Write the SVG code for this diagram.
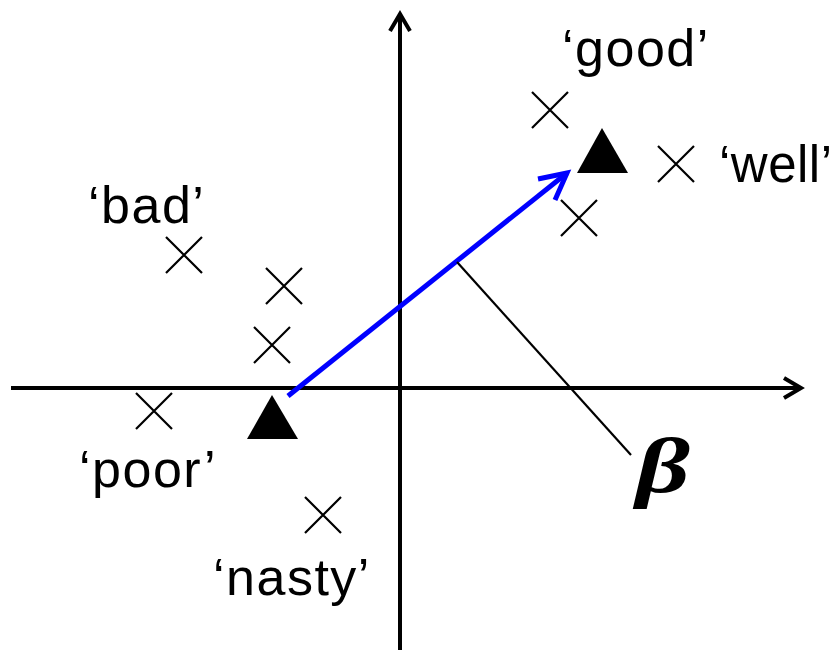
<svg xmlns="http://www.w3.org/2000/svg" width="838" height="650" viewBox="0 0 838 650">
<defs>
<style>
.ax{stroke:#000;stroke-width:4;fill:none}
.cr{stroke:#000;stroke-width:2.2;fill:none}
.lb{font-family:"Liberation Sans",Arial,Helvetica,sans-serif;font-size:52px;letter-spacing:1.5px;fill:#000}
</style>
<g id="xmark"><path class="cr" d="M-18,-18L18,18M-18,18L18,-18"/></g>
</defs>
<rect width="838" height="650" fill="#fff"/>
<g id="connectors">
<g id="y-axis"><path class="ax" d="M400,650V14"/><path class="ax" d="M390,31L400,14L410,31"/></g>
<g id="x-axis"><path class="ax" d="M11,388H800"/><path class="ax" d="M784,378L801,388L784,398"/></g>
<g id="beta-arrow"><path d="M288,396L567,173" stroke="#0000ff" stroke-width="5" fill="none"/><path d="M538,179L567,173L555,200" stroke="#0000ff" stroke-width="5" fill="none" stroke-linejoin="miter"/></g>
<path id="beta-leader" d="M457,262L631,455" stroke="#000" stroke-width="2.2" fill="none"/>
</g>
<g id="pos-centroid"><polygon points="602,128 577,173 628,173" fill="#000"/></g>
<g id="neg-centroid"><polygon points="272,395 247,439 298,439" fill="#000"/></g>
<g id="good"><use href="#xmark" x="550" y="110"/><text class="lb" x="562" y="66">‘good’</text></g>
<g id="well"><use href="#xmark" x="676" y="164"/><text class="lb" x="719" y="182" style="font-size:51px;letter-spacing:0.5px">‘well’</text></g>
<g id="pos-x3"><use href="#xmark" x="579" y="218"/></g>
<g id="bad"><use href="#xmark" x="184" y="255"/><text class="lb" x="88" y="223">‘bad’</text></g>
<g id="neg-x2"><use href="#xmark" x="284" y="286"/></g>
<g id="neg-x3"><use href="#xmark" x="272" y="345"/></g>
<g id="poor"><use href="#xmark" x="154" y="411"/><text class="lb" x="79" y="487">‘poor’</text></g>
<g id="nasty"><use href="#xmark" x="323" y="515"/><text class="lb" x="213" y="595">‘nasty’</text></g>
<g id="beta"><text transform="translate(636,492) scale(1.35,1)" x="0" y="0" font-family="Liberation Serif,Times New Roman,serif" font-style="italic" font-weight="bold" font-size="78">β</text></g>
</svg>
